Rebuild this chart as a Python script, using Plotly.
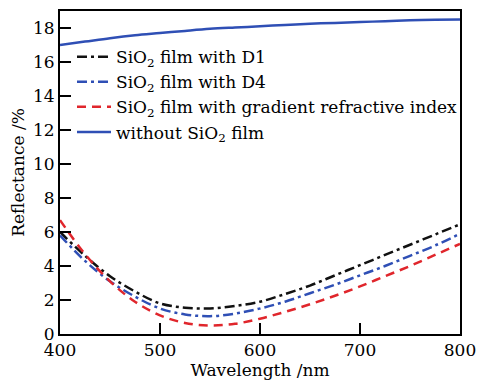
import plotly.graph_objects as go

wavelength = [400, 425, 450, 475, 500, 525, 550, 575, 600, 625, 650, 675, 700, 725, 750, 775, 800]
r_d1 = [6.0, 4.6, 3.4, 2.5, 1.8, 1.55, 1.5, 1.65, 1.9, 2.35, 2.85, 3.45, 4.05, 4.65, 5.25, 5.85, 6.45]
r_d4 = [5.8, 4.3, 3.1, 2.2, 1.5, 1.15, 1.05, 1.2, 1.5, 1.9, 2.4, 2.9, 3.45, 4.0, 4.6, 5.2, 5.9]
r_grad = [6.7, 4.7, 3.1, 1.9, 1.1, 0.65, 0.5, 0.6, 0.9, 1.3, 1.75, 2.25, 2.8, 3.4, 4.0, 4.65, 5.3]
r_bare = [17.0, 17.2, 17.4, 17.57, 17.7, 17.83, 17.95, 18.03, 18.1, 18.18, 18.25, 18.3, 18.35, 18.4, 18.45, 18.48, 18.5]

names = ["SiO<sub>2</sub> film with D1",
         "SiO<sub>2</sub> film with D4",
         "SiO<sub>2</sub> film with gradient refractive index",
         "without SiO<sub>2</sub> film"]

font = "DejaVu Serif, Liberation Serif, serif"

fig = go.Figure()
fig.add_trace(go.Scatter(x=wavelength, y=r_d1, mode="lines", name=names[0],
                         line=dict(color="#111111", width=2.5, dash="10px,4px,3px,4px", shape="spline")))
fig.add_trace(go.Scatter(x=wavelength, y=r_d4, mode="lines", name=names[1],
                         line=dict(color="#2f4fb5", width=2.5, dash="10px,4px,3px,4px", shape="spline")))
fig.add_trace(go.Scatter(x=wavelength, y=r_grad, mode="lines", name=names[2],
                         line=dict(color="#e0262c", width=2.5, dash="9px,6px", shape="spline")))
fig.add_trace(go.Scatter(x=wavelength, y=r_bare, mode="lines", name=names[3],
                         line=dict(color="#2f4fb5", width=2.5, shape="spline")))

fig.update_layout(
    width=479, height=381,
    margin=dict(l=60, r=19, t=11, b=47),
    paper_bgcolor="white", plot_bgcolor="white",
    font=dict(family=font, size=17, color="black"),
    showlegend=True,
    legend=dict(x=0.03, y=0.913, xanchor="left", yanchor="top",
                bgcolor="rgba(0,0,0,0)", font=dict(size=17, family=font),
                tracegroupgap=0, itemwidth=34),
    xaxis=dict(range=[400, 800], tickvals=[400, 500, 600, 700, 800],
               ticks="inside", ticklen=11, tickwidth=2, tickcolor="black",
               showline=True, linewidth=2, linecolor="black", mirror=True,
               showgrid=False, zeroline=False, automargin=False,
               title=dict(text="Wavelength /nm", standoff=4, font=dict(size=17)),
               tickfont=dict(size=17)),
    yaxis=dict(range=[0, 19], tickvals=[0, 2, 4, 6, 8, 10, 12, 14, 16, 18],
               ticks="inside", ticklen=11, tickwidth=2, tickcolor="black",
               showline=True, linewidth=2, linecolor="black", mirror=True,
               showgrid=False, zeroline=False, automargin=False,
               title=dict(text="Reflectance /%", standoff=4, font=dict(size=17)),
               tickfont=dict(size=17)),
)

fig.write_html("out.html")
